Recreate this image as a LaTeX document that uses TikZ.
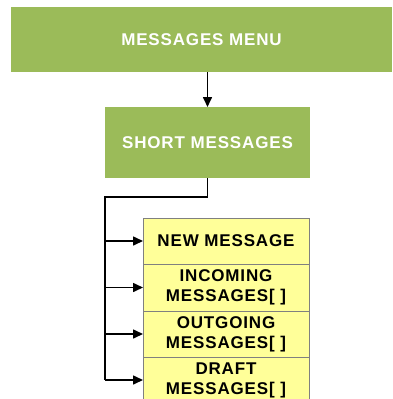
\documentclass[tikz,border=0pt]{standalone}
\usepackage{fontspec}
\usepackage{tikz}
\usetikzlibrary{
  arrows.meta,
  positioning
}
\newfontfamily\boxfont[LetterSpace=5]{Liberation Sans}
\usepackage{xcolor}
\definecolor{menugreen}{RGB}{155, 187, 89}
\definecolor{itemyellow}{RGB}{255, 255, 153}
\definecolor{itemborder}{RGB}{128, 128, 128}
\tikzset{
  % Yashil bloklar
  greenbox/.style = {rectangle, fill=menugreen, draw=none, text=white,
                     font=\boxfont\bfseries\fontsize{17}{20}\selectfont,
                     inner sep=0pt, outer sep=0pt},
  % Sariq bloklar
  itembox/.style  = {rectangle, fill=itemyellow, draw=itemborder, line width=0.8pt,
                     text=black, align=center, minimum width=166pt,
                     font=\boxfont\bfseries\fontsize{17}{20}\selectfont,
                     inner sep=0pt, outer sep=0pt},
  % Chiziqlar
  link/.style     = {line width=1.6pt, black},
  linkarrow/.style= {link, -{Triangle[length=10pt, width=9pt]}},
}

\begin{document}
\begin{tikzpicture}[x=1pt, y=-1pt]
  \useasboundingbox (0,0) rectangle (392,399);
  % Menyu bloklari
  \node[greenbox, minimum width=381pt, minimum height=65pt] (menu) at (201.5,39.5)
    {MESSAGES MENU};
  \node[greenbox, minimum width=205pt, minimum height=71pt] (short) at (207.5,142.5)
    {SHORT MESSAGES};
  % Xabarlar ro'yxati
  \node[itembox, minimum height=46pt] (new) at (226,241) {NEW MESSAGE};
  \node[itembox, minimum height=47pt, below=0pt of new] (incoming)
    {INCOMING\\MESSAGES[\ ]};
  \node[itembox, minimum height=46pt, below=0pt of incoming] (outgoing)
    {OUTGOING\\MESSAGES[\ ]};
  \node[itembox, minimum height=46pt, below=0pt of outgoing] (draft)
    {DRAFT\\MESSAGES[\ ]};
  % Ulanishlar
  \draw[linkarrow] (short.north |- menu.south) -- (short.north);
  \coordinate (bend) at (105,197);
  \draw[link] (short.south) |- (bend) -- (bend |- draft.west);
  \foreach \item in {new, incoming, outgoing, draft}
    \draw[linkarrow] (bend |- \item.west) -- (\item.west);
\end{tikzpicture}
\end{document}
